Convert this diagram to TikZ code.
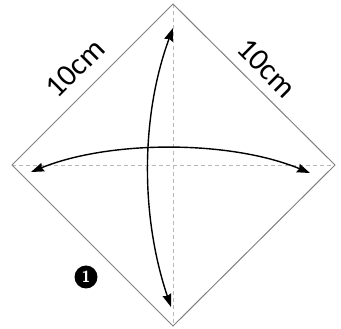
\documentclass[tikz,border=0pt]{standalone}
\usepackage{fontspec}
\setmainfont{Carlito}
\usetikzlibrary{arrows.meta}
\begin{document}
\begin{tikzpicture}[x=1pt,y=-1pt,
  edge/.style={draw=black!50, line width=1pt},
  crease/.style={draw=black!28, line width=0.8pt, dash pattern=on 4pt off 3pt},
  fold/.style={draw=black, line width=1.4pt, {Stealth[length=13pt,width=9pt,inset=1.5pt]}-{Stealth[length=13pt,width=9pt,inset=1.5pt]}},
  lbl/.style={font=\fontsize{31}{31}\selectfont, inner sep=0pt},
  stepnum/.style={circle, fill=black, text=white, minimum size=23pt, inner sep=0pt, font=\bfseries\sffamily\fontsize{16}{16}\selectfont}]
\useasboundingbox (0,0) rectangle (341,329);
\coordinate (T) at (173,4);
\coordinate (R) at (335,165);
\coordinate (B) at (173,326);
\coordinate (L) at (12,165);
\draw[crease] (L) -- (R);
\draw[crease] (T) -- (B);
\draw[edge] (T) -- (R) -- (B) -- (L) -- cycle;
\coordinate (hl) at (31,172);
\coordinate (hr) at (310,173);
\coordinate (vt) at (173,28);
\coordinate (vb) at (171,307);
\draw[fold] (hl) .. controls (110,140) and (230,140) .. (hr);
\draw[fold] (vt) .. controls (141,115) and (140,215) .. (vb);
\node[lbl, rotate=45] (s1) at (75,68) {10cm};
\node[lbl, rotate=-45] (s2) at (267,68) {10cm};
\node[stepnum] (n1) at (86,277) {1};
\end{tikzpicture}
\end{document}
